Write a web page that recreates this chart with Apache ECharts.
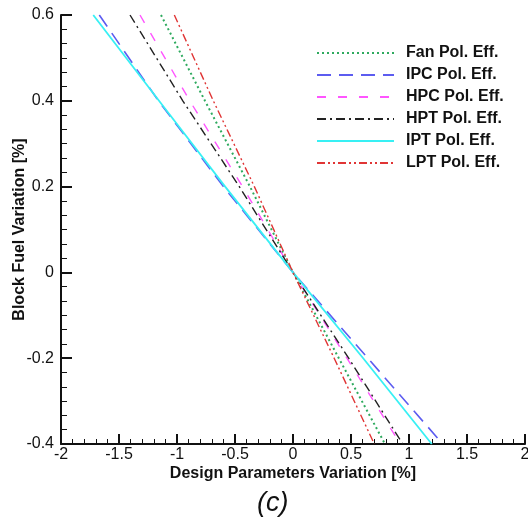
<!DOCTYPE html>
<html>
<head>
<meta charset="utf-8">
<script src="https://cdn.jsdelivr.net/npm/echarts@6/dist/echarts.min.js"></script>
<style>html,body{margin:0;padding:0;background:#fff}#c{width:528px;height:527px}</style>
</head>
<body>
<div id="c"></div>
<script>
// Block fuel variation levels (y) at which x positions were read
var yLevels = [0.6, 0.4, 0.2, 0, -0.2, -0.4];
// Design parameter variation (x) for each series at the y levels above
var fanX = [-1.138, -0.759, -0.371, 0, 0.395, 0.793];
var ipcX = [-1.670, -1.160, -0.600, 0, 0.645, 1.291];
var hpcX = [-1.319, -0.890, -0.435, 0, 0.465, 0.925];
var hptX = [-1.405, -0.950, -0.463, 0, 0.480, 0.946];
var iptX = [-1.722, -1.155, -0.585, 0, 0.605, 1.196];
var lptX = [-1.023, -0.687, -0.333, 0, 0.355, 0.701];
var seriesNames = ['Fan Pol. Eff.', 'IPC Pol. Eff.', 'HPC Pol. Eff.', 'HPT Pol. Eff.', 'IPT Pol. Eff.', 'LPT Pol. Eff.'];
var xTicks = [-2, -1.5, -1, -0.5, 0, 0.5, 1, 1.5, 2];
var yTicks = [-0.4, -0.2, 0, 0.2, 0.4, 0.6];

function pairs(xs) { return xs.map(function (x, i) { return [x, yLevels[i]]; }); }

var styles = [
  { color: '#2eaa5e', type: [2, 3], width: 2 },
  { color: '#5c5cf0', type: [14, 8], width: 1.6 },
  { color: '#ff55ff', type: [9, 12], width: 1.4 },
  { color: '#222222', type: [9, 4, 2, 4], width: 1.4 },
  { color: '#38f0f4', type: 'solid', width: 1.8 },
  { color: '#e03535', type: [8, 3, 2, 3, 2, 3], width: 1.4 }
];
var allX = [fanX, ipcX, hpcX, hptX, iptX, lptX];

var series = allX.map(function (xs, i) {
  return {
    name: seriesNames[i],
    type: 'line',
    data: pairs(xs),
    symbol: 'none',
    smooth: false,
    lineStyle: styles[i],
    itemStyle: { color: styles[i].color }
  };
});

var font = 'Liberation Sans, Arial, sans-serif';
var chart = echarts.init(document.getElementById('c'));
chart.setOption({
  animation: false,
  backgroundColor: '#fff',
  grid: { left: 61, right: 3, top: 15, bottom: 83, containLabel: false, outerBoundsMode: 'none' },
  legend: {
    orient: 'vertical',
    left: 311,
    top: 40,
    itemWidth: 77,
    itemHeight: 14,
    itemGap: 6,
    data: seriesNames,
    itemStyle: { opacity: 0 },
    textStyle: { fontFamily: font, fontWeight: 'bold', fontSize: 16, color: '#111', padding: [0, 0, 0, 7] }
  },
  xAxis: {
    type: 'value', min: -2, max: 2, interval: 0.5,
    name: 'Design Parameters Variation [%]',
    nameLocation: 'middle', nameGap: 22, nameMoveOverlap: false,
    nameTextStyle: { fontFamily: font, fontWeight: 'bold', fontSize: 16, color: '#111' },
    axisLine: { show: true, onZero: false, lineStyle: { color: '#111', width: 2 } },
    axisTick: { show: true, inside: true, length: 10, lineStyle: { color: '#111', width: 2 } },
    minorTick: { show: true, splitNumber: 5, length: 5, lineStyle: { color: '#111', width: 1 } },
    splitLine: { show: false },
    axisLabel: {
      fontFamily: font, fontSize: 16, color: '#111', margin: 3,
      formatter: function (v) { var t = xTicks.filter(function (k) { return Math.abs(k - v) < 1e-9; }); return t.length ? String(t[0]) : ''; }
    }
  },
  yAxis: {
    type: 'value', min: -0.4, max: 0.6, interval: 0.2,
    name: 'Block Fuel Variation [%]',
    nameLocation: 'middle', nameGap: 33, nameMoveOverlap: false,
    nameTextStyle: { fontFamily: font, fontWeight: 'bold', fontSize: 16, color: '#111' },
    axisLine: { show: true, onZero: false, lineStyle: { color: '#111', width: 2 } },
    axisTick: { show: true, inside: true, length: 11, lineStyle: { color: '#111', width: 2 } },
    minorTick: { show: true, splitNumber: 6, length: 6, lineStyle: { color: '#111', width: 1 } },
    splitLine: { show: false },
    axisLabel: {
      fontFamily: font, fontSize: 16, color: '#111', margin: 7,
      formatter: function (v) { var t = yTicks.filter(function (k) { return Math.abs(k - v) < 1e-9; }); return t.length ? String(t[0]) : ''; }
    }
  },
  graphic: [{
    type: 'text', left: 257, top: 490,
    style: { text: '(c)', font: 'italic 27px ' + font, fill: '#111' }
  }],
  series: series
});
</script>
</body>
</html>
